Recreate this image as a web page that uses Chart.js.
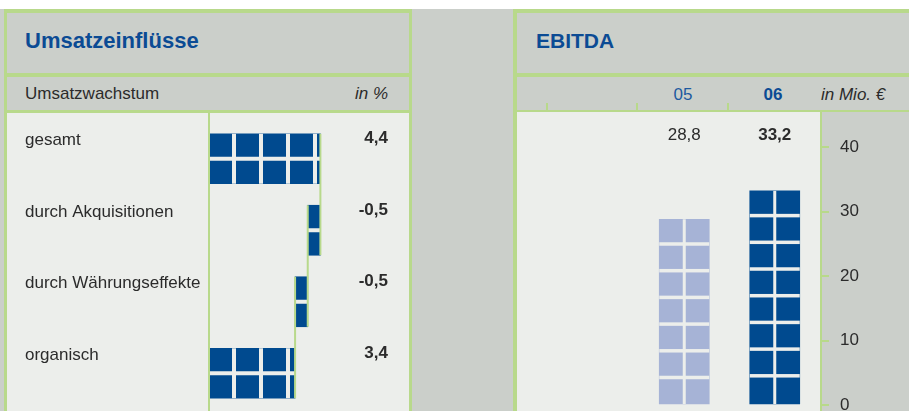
<!DOCTYPE html>
<html>
<head>
<meta charset="utf-8">
<script src="https://cdn.jsdelivr.net/npm/chart.js@4"></script>
<style>
  body { margin: 0; width: 909px; height: 411px; overflow: hidden; position: relative;
         background: #cbcfca; font-family: "Liberation Sans", Arial, sans-serif; color: #2b2b2b; }
  .box { position: absolute; }
  .green { background: #b8d98b; }
  .gray { background: #cbcfca; }
  .light { background: #eceeeb; }
  .title { position: absolute; font-size: 22px; line-height: 22px; font-weight: bold; color: #0b4b94; white-space: nowrap; }
  .txt { position: absolute; font-size: 17px; line-height: 17px; white-space: nowrap; }
  .tick { position: absolute; width: 2px; height: 7px; top: 103px; background: #b8d98b; }
  canvas { display: block; }
</style>
</head>
<body>
<div class="box" style="left:0;top:0;width:909px;height:9px;background:#fff"></div>

<!-- left panel -->
<div class="box green" style="left:4px;top:9px;width:408px;height:402px"></div>
<div class="box gray" style="left:7px;top:13px;width:402px;height:60px"></div>
<div class="box gray" style="left:7px;top:77px;width:402px;height:33px"></div>
<div class="title" style="left:25px;top:30px">Umsatzeinflüsse</div>
<div class="txt" style="left:25px;top:85px">Umsatzwachstum</div>
<div class="txt" style="left:288px;top:85px;width:100px;text-align:right;font-style:italic">in %</div>
<div class="box light" style="left:7px;top:113px;width:402px;height:298px">
  <canvas id="leftChart" width="402" height="298"></canvas>
</div>

<!-- right panel -->
<div class="box green" style="left:513px;top:9px;width:396px;height:402px"></div>
<div class="box gray" style="left:517px;top:13px;width:392px;height:60px"></div>
<div class="box gray" style="left:517px;top:77px;width:392px;height:33px"></div>
<div class="title" style="left:536px;top:30px;font-size:21px">EBITDA</div>
<div class="txt" style="left:653px;top:86px;width:60px;text-align:center;color:#1d5aa0">05</div>
<div class="txt" style="left:743px;top:86px;width:60px;text-align:center;color:#0b4b94;font-weight:bold">06</div>
<div class="txt" style="left:821px;top:86px;font-style:italic">in Mio. €</div>
<div class="tick" style="left:546px"></div>
<div class="tick" style="left:636px"></div>
<div class="tick" style="left:727px"></div>
<div class="box gray" style="left:517px;top:112px;width:392px;height:299px">
  <canvas id="rightChart" width="392" height="299"></canvas>
</div>

<script>
// Umsatzwachstum in %
const categories = ['gesamt', 'durch Akquisitionen', 'durch Währungseffekte', 'organisch'];
const changes = [4.4, -0.5, -0.5, 3.4];
const isTotal = [true, false, false, true];

// EBITDA in Mio. €
const years = ['05', '06'];
const ebitda = [28.8, 33.2];
const yearColors = ['#a6b3d6', '#004a8f'];

const FONT = '"Liberation Sans", Arial, sans-serif';
const GREEN = '#b8d98b';
const LIGHT = '#eceeeb';
const TEXT = '#2b2b2b';
const fmt = v => v.toFixed(1).replace('.', ',');

// waterfall ranges
let level = 0;
const levels = [];
const ranges = changes.map((v, i) => {
  let r;
  if (isTotal[i]) { r = [0, v]; level = v; }
  else { r = [level + v, level]; level += v; }
  levels.push(level);
  return r;
});

// no extra room for the outer tick labels
const noPad = s => { s.paddingTop = 0; s.paddingBottom = 0; };

const leftDeco = {
  id: 'leftDeco',
  afterDatasetsDraw(chart) {
    const ctx = chart.ctx;
    const meta = chart.getDatasetMeta(0);
    const xs = chart.scales.x;
    const bars = meta.data.map(b => {
      const p = b.getProps(['x', 'y', 'base', 'height'], true);
      return { left: Math.min(p.x, p.base), right: Math.max(p.x, p.base), top: p.y - p.height / 2, bottom: p.y + p.height / 2, y: p.y, h: p.height };
    });
    ctx.save();
    // block gaps
    ctx.fillStyle = LIGHT;
    bars.forEach(b => {
      ctx.fillRect(b.left, b.y - 2, b.right - b.left, 4);
      for (let gx = b.left + 23; gx < b.right; gx += 27) ctx.fillRect(gx, b.top, 4, b.h);
    });
    // zero line and connectors
    ctx.fillStyle = GREEN;
    ctx.fillRect(xs.getPixelForValue(0) - 1, 0, 2, chart.height);
    for (let i = 0; i < bars.length - 1; i++) {
      const px = xs.getPixelForValue(levels[i]);
      ctx.fillRect(px - 1, bars[i].top, 2, bars[i + 1].bottom - bars[i].top);
    }
    // values
    ctx.fillStyle = TEXT;
    ctx.font = 'bold 17px ' + FONT;
    ctx.textAlign = 'right';
    ctx.textBaseline = 'middle';
    bars.forEach((b, i) => ctx.fillText(fmt(changes[i]), 381, b.y - 20));
    ctx.restore();
  }
};

new Chart(document.getElementById('leftChart'), {
  type: 'bar',
  data: {
    labels: categories,
    datasets: [{ data: ranges, backgroundColor: '#004a8f', barThickness: 50, borderWidth: 0 }]
  },
  options: {
    indexAxis: 'y',
    responsive: false,
    animation: false,
    layout: { padding: { left: 18, right: 0, top: 10, bottom: 2 } },
    plugins: { legend: { display: false }, tooltip: { enabled: false } },
    scales: {
      x: { display: false, min: 0, max: 7.9 },
      y: {
        grid: { display: false },
        border: { display: false },
        ticks: { crossAlign: 'far', labelOffset: -18, color: TEXT, font: { family: FONT, size: 17 } },
        afterFit: s => { s.width = 184; noPad(s); }
      }
    }
  },
  plugins: [leftDeco]
});

const rightDeco = {
  id: 'rightDeco',
  beforeDraw(chart) {
    const ctx = chart.ctx;
    ctx.save();
    ctx.fillStyle = LIGHT;
    ctx.fillRect(0, 0, chart.chartArea.right, chart.height);
    ctx.restore();
  },
  afterDatasetsDraw(chart) {
    const ctx = chart.ctx;
    const meta = chart.getDatasetMeta(0);
    ctx.save();
    meta.data.forEach((bar, i) => {
      const p = bar.getProps(['x', 'y', 'base', 'width'], true);
      const left = p.x - p.width / 2, top = p.y, bottom = p.base;
      ctx.fillStyle = LIGHT;
      ctx.fillRect(p.x - 1.5, top, 3, bottom - top);
      for (let gy = top + 23; gy + 3.5 < bottom - 10; gy += 26.7) ctx.fillRect(left, gy, p.width, 3.5);
      ctx.fillStyle = TEXT;
      ctx.font = (i === ebitda.length - 1 ? 'bold ' : '') + '17px ' + FONT;
      ctx.textAlign = 'center';
      ctx.textBaseline = 'middle';
      ctx.fillText(fmt(ebitda[i]), p.x, chart.chartArea.top - 12);
    });
    ctx.fillStyle = GREEN;
    ctx.fillRect(chart.chartArea.right, 0, 2, chart.height);
    ctx.restore();
  }
};

new Chart(document.getElementById('rightChart'), {
  type: 'bar',
  data: {
    labels: years,
    datasets: [{ data: ebitda, backgroundColor: yearColors, barThickness: 50, borderWidth: 0 }]
  },
  options: {
    responsive: false,
    animation: false,
    layout: { padding: { left: 122, right: 0, top: 35, bottom: 6 } },
    plugins: { legend: { display: false }, tooltip: { enabled: false } },
    scales: {
      x: { display: false },
      y: {
        position: 'right',
        min: 0, max: 40,
        ticks: { stepSize: 10, padding: 11, color: TEXT, font: { family: FONT, size: 17 } },
        grid: { drawOnChartArea: false, drawTicks: true, tickLength: 9, color: GREEN, lineWidth: 2 },
        border: { display: false },
        afterFit: s => { s.width = 89; noPad(s); }
      }
    }
  },
  plugins: [rightDeco]
});
</script>
</body>
</html>
